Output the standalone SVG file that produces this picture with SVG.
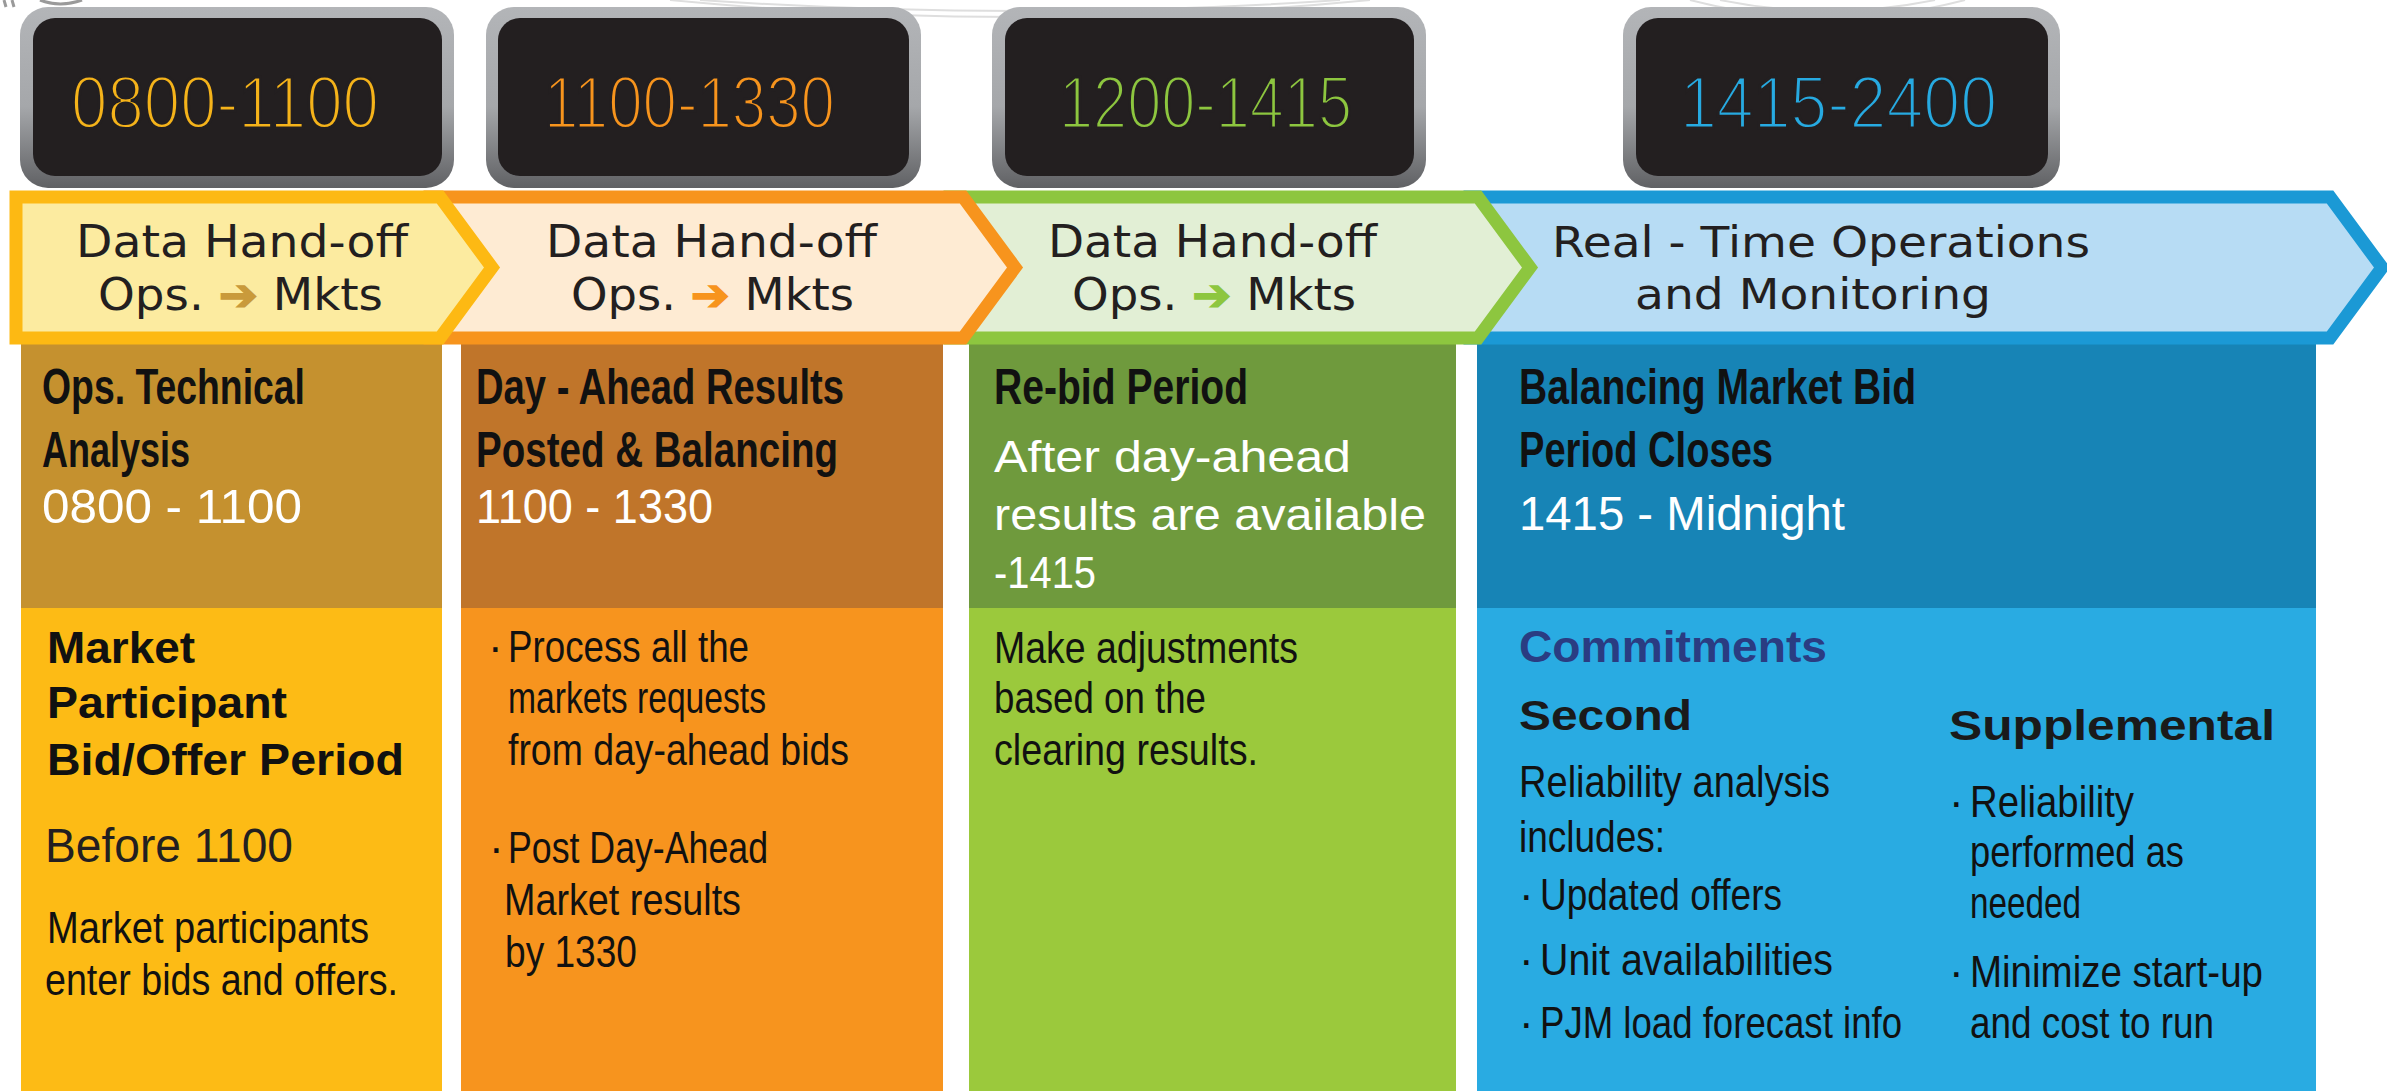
<svg xmlns="http://www.w3.org/2000/svg" width="2387" height="1091" viewBox="0 0 2387 1091">
  <defs>
    <linearGradient id="frame" x1="0" y1="0" x2="0" y2="1">
      <stop offset="0" stop-color="#B3B5B8"/>
      <stop offset="0.55" stop-color="#A5A7AA"/>
      <stop offset="1" stop-color="#606164"/>
    </linearGradient>
    <style>
      .frame { fill: url(#frame); }
      .screen { fill: #231F20; }
      .dg { font-family: "Liberation Sans", Arial, sans-serif; font-size: 74px; font-weight: normal; stroke: #231F20; stroke-width: 3; }
      .chev { stroke-width: 13; stroke-linejoin: miter; }
      .ch { font-family: "DejaVu Sans", Verdana, sans-serif; font-size: 44px; fill: #231F20; }
      .ch4 { font-family: "DejaVu Sans", Verdana, sans-serif; font-size: 42px; fill: #231F20; }
      .arr { stroke-width: 1.5; }
      .hd { font-family: "Liberation Sans", Arial, sans-serif; font-weight: bold; font-size: 50px; fill: #111111; }
      .wt { font-family: "Liberation Sans", Arial, sans-serif; font-size: 48px; fill: #FFFFFF; }
      .wt2 { font-family: "Liberation Sans", Arial, sans-serif; font-size: 45px; fill: #FFFFFF; }
      .bd { font-family: "Liberation Sans", Arial, sans-serif; font-weight: bold; font-size: 45px; fill: #111111; }
      .nm { font-family: "Liberation Sans", Arial, sans-serif; font-size: 48px; fill: #231F20; }
      .cn { font-family: "Liberation Sans", Arial, sans-serif; font-size: 44px; fill: #111111; }
      .sb { font-family: "Liberation Sans", Arial, sans-serif; font-weight: bold; font-size: 43px; fill: #1A1A1A; }
      .cm { font-family: "Liberation Sans", Arial, sans-serif; font-weight: bold; font-size: 45px; fill: #2A3C82; }
      .faint { fill: none; stroke: #DEDEDE; stroke-width: 2; }
    </style>
  </defs>

  <rect width="2387" height="1091" fill="#FFFFFF"/>

  <g id="background-marks">
    <path class="faint" d="M670,0 Q1020,34 1370,0"/>
    <path class="faint" d="M700,0 Q1020,22 1340,0"/>
    <path class="faint" d="M1690,0 Q1828,36 1965,0"/>
    <path class="faint" d="M1720,0 Q1828,22 1935,0"/>
    <path d="M4,0 L6,7 M12,0 L14,7 M40,0 Q60,8 82,0" fill="none" stroke="#9A9A9A" stroke-width="3"/>
  </g>

  <!-- Columns -->
  <g id="col-1">
    <rect x="21" y="343" width="421" height="265" fill="#C5912F"/>
    <rect x="21" y="608" width="421" height="483" fill="#FDBB15"/>
    <text class="hd" x="42" y="404" textLength="263" lengthAdjust="spacingAndGlyphs">Ops. Technical</text>
    <text class="hd" x="42" y="467" textLength="148" lengthAdjust="spacingAndGlyphs">Analysis</text>
    <text class="wt" x="42" y="523" textLength="260" lengthAdjust="spacingAndGlyphs">0800 - 1100</text>
    <text class="bd" x="47" y="663" textLength="148" lengthAdjust="spacingAndGlyphs">Market</text>
    <text class="bd" x="47" y="718" textLength="240" lengthAdjust="spacingAndGlyphs">Participant</text>
    <text class="bd" x="47" y="775" textLength="357" lengthAdjust="spacingAndGlyphs">Bid/Offer Period</text>
    <text class="nm" x="45" y="862" textLength="248" lengthAdjust="spacingAndGlyphs">Before 1100</text>
    <text class="cn" x="47" y="943" textLength="322" lengthAdjust="spacingAndGlyphs">Market participants</text>
    <text class="cn" x="45" y="995" textLength="353" lengthAdjust="spacingAndGlyphs">enter bids and offers.</text>
  </g>

  <g id="col-2">
    <rect x="461" y="343" width="482" height="265" fill="#C0752A"/>
    <rect x="461" y="608" width="482" height="483" fill="#F7941E"/>
    <text class="hd" x="476" y="404" textLength="368" lengthAdjust="spacingAndGlyphs">Day - Ahead Results</text>
    <text class="hd" x="476" y="467" textLength="362" lengthAdjust="spacingAndGlyphs">Posted &amp; Balancing</text>
    <text class="wt" x="476" y="523" textLength="237" lengthAdjust="spacingAndGlyphs">1100 - 1330</text>
    <text class="cn" x="488" y="662">·</text>
    <text class="cn" x="508" y="662" textLength="241" lengthAdjust="spacingAndGlyphs">Process all the</text>
    <text class="cn" x="508" y="713" textLength="258" lengthAdjust="spacingAndGlyphs">markets requests</text>
    <text class="cn" x="508" y="765" textLength="341" lengthAdjust="spacingAndGlyphs">from day-ahead bids</text>
    <text class="cn" x="489" y="863">·</text>
    <text class="cn" x="508" y="863" textLength="260" lengthAdjust="spacingAndGlyphs">Post Day-Ahead</text>
    <text class="cn" x="504" y="915" textLength="237" lengthAdjust="spacingAndGlyphs">Market results</text>
    <text class="cn" x="505" y="967" textLength="132" lengthAdjust="spacingAndGlyphs">by 1330</text>
  </g>

  <g id="col-3">
    <rect x="969" y="343" width="487" height="265" fill="#6F9A3D"/>
    <rect x="969" y="608" width="487" height="483" fill="#9BC93C"/>
    <text class="hd" x="994" y="404" textLength="254" lengthAdjust="spacingAndGlyphs">Re-bid Period</text>
    <text class="wt2" x="994" y="472" textLength="357" lengthAdjust="spacingAndGlyphs">After day-ahead</text>
    <text class="wt2" x="994" y="530" textLength="432" lengthAdjust="spacingAndGlyphs">results are available</text>
    <text class="wt2" x="994" y="588" textLength="102" lengthAdjust="spacingAndGlyphs">-1415</text>
    <text class="cn" x="994" y="663" textLength="304" lengthAdjust="spacingAndGlyphs">Make adjustments</text>
    <text class="cn" x="994" y="713" textLength="212" lengthAdjust="spacingAndGlyphs">based on the</text>
    <text class="cn" x="994" y="765" textLength="264" lengthAdjust="spacingAndGlyphs">clearing results.</text>
  </g>

  <g id="col-4">
    <rect x="1477" y="343" width="839" height="265" fill="#1784B6"/>
    <rect x="1477" y="608" width="839" height="483" fill="#29ABE2"/>
    <text class="hd" x="1519" y="404" textLength="397" lengthAdjust="spacingAndGlyphs">Balancing Market Bid</text>
    <text class="hd" x="1519" y="467" textLength="254" lengthAdjust="spacingAndGlyphs">Period Closes</text>
    <text class="wt" x="1519" y="530" textLength="326" lengthAdjust="spacingAndGlyphs">1415 - Midnight</text>
    <text class="cm" x="1519" y="662" textLength="308" lengthAdjust="spacingAndGlyphs">Commitments</text>
    <text class="sb" x="1519" y="730" textLength="173" lengthAdjust="spacingAndGlyphs">Second</text>
    <text class="sb" x="1949" y="740" textLength="326" lengthAdjust="spacingAndGlyphs">Supplemental</text>
    <text class="cn" x="1519" y="797" textLength="311" lengthAdjust="spacingAndGlyphs">Reliability analysis</text>
    <text class="cn" x="1519" y="852" textLength="146" lengthAdjust="spacingAndGlyphs">includes:</text>
    <text class="cn" x="1519" y="910">·</text>
    <text class="cn" x="1540" y="910" textLength="242" lengthAdjust="spacingAndGlyphs">Updated offers</text>
    <text class="cn" x="1519" y="975">·</text>
    <text class="cn" x="1540" y="975" textLength="293" lengthAdjust="spacingAndGlyphs">Unit availabilities</text>
    <text class="cn" x="1519" y="1038">·</text>
    <text class="cn" x="1540" y="1038" textLength="362" lengthAdjust="spacingAndGlyphs">PJM load forecast info</text>
    <text class="cn" x="1949" y="817">·</text>
    <text class="cn" x="1970" y="817" textLength="164" lengthAdjust="spacingAndGlyphs">Reliability</text>
    <text class="cn" x="1970" y="867" textLength="214" lengthAdjust="spacingAndGlyphs">performed as</text>
    <text class="cn" x="1970" y="918" textLength="111" lengthAdjust="spacingAndGlyphs">needed</text>
    <text class="cn" x="1949" y="987">·</text>
    <text class="cn" x="1970" y="987" textLength="293" lengthAdjust="spacingAndGlyphs">Minimize start-up</text>
    <text class="cn" x="1970" y="1038" textLength="244" lengthAdjust="spacingAndGlyphs">and cost to run</text>
  </g>

  <!-- Chevron banners (drawn right to left so each point overlaps the next) -->
  <g id="chevron-4">
    <path class="chev" d="M1470,197 H2330 L2382,267.5 L2330,338 H1470 Z" fill="#B7DCF4" stroke="#1B99D5"/>
    <text class="ch4" x="1552" y="257" textLength="538" lengthAdjust="spacingAndGlyphs">Real - Time Operations</text>
    <text class="ch4" x="1635" y="309" textLength="356" lengthAdjust="spacingAndGlyphs">and Monitoring</text>
  </g>
  <g id="chevron-3">
    <path class="chev" d="M950,197 H1478 L1530,267.5 L1478,338 H950 Z" fill="#E2EFD5" stroke="#8DC63F"/>
    <text class="ch" x="1048" y="257" textLength="329" lengthAdjust="spacingAndGlyphs">Data Hand-off</text>
    <text class="ch" x="1072" y="310" textLength="284" lengthAdjust="spacingAndGlyphs">Ops. <tspan class="arr" fill="#8DC63F" stroke="#8DC63F">➔</tspan> Mkts</text>
  </g>
  <g id="chevron-2">
    <path class="chev" d="M430,197 H963 L1015,267.5 L963,338 H430 Z" fill="#FEEBD3" stroke="#F7941D"/>
    <text class="ch" x="546" y="257" textLength="331" lengthAdjust="spacingAndGlyphs">Data Hand-off</text>
    <text class="ch" x="571" y="310" textLength="283" lengthAdjust="spacingAndGlyphs">Ops. <tspan class="arr" fill="#F7941D" stroke="#F7941D">➔</tspan> Mkts</text>
  </g>
  <g id="chevron-1">
    <path class="chev" d="M16,197 H440 L492,267.5 L440,338 H16 Z" fill="#FCEBA0" stroke="#FDB913"/>
    <text class="ch" x="76" y="257" textLength="332" lengthAdjust="spacingAndGlyphs">Data Hand-off</text>
    <text class="ch" x="98" y="310" textLength="285" lengthAdjust="spacingAndGlyphs">Ops. <tspan class="arr" fill="#C99A3B" stroke="#C99A3B">➔</tspan> Mkts</text>
  </g>

  <!-- Clocks -->
  <g id="clock-1">
    <rect class="frame" x="20" y="7" width="434" height="181" rx="28"/>
    <rect class="screen" x="33" y="18" width="409" height="158" rx="22"/>
    <text class="dg" x="71" y="128" fill="#F5B31A" textLength="308" lengthAdjust="spacingAndGlyphs">0800-1100</text>
  </g>
  <g id="clock-2">
    <rect class="frame" x="486" y="7" width="435" height="181" rx="28"/>
    <rect class="screen" x="498" y="18" width="411" height="158" rx="22"/>
    <text class="dg" x="544" y="128" fill="#F7941D" textLength="291" lengthAdjust="spacingAndGlyphs">1100-1330</text>
  </g>
  <g id="clock-3">
    <rect class="frame" x="992" y="7" width="434" height="181" rx="28"/>
    <rect class="screen" x="1005" y="18" width="409" height="158" rx="22"/>
    <text class="dg" x="1059" y="128" fill="#8DC63F" textLength="293" lengthAdjust="spacingAndGlyphs">1200-1415</text>
  </g>
  <g id="clock-4">
    <rect class="frame" x="1623" y="7" width="437" height="181" rx="28"/>
    <rect class="screen" x="1636" y="18" width="412" height="158" rx="22"/>
    <text class="dg" x="1680" y="128" fill="#27AAE1" textLength="317" lengthAdjust="spacingAndGlyphs">1415-2400</text>
  </g>

  <g id="connectors"/>
</svg>
